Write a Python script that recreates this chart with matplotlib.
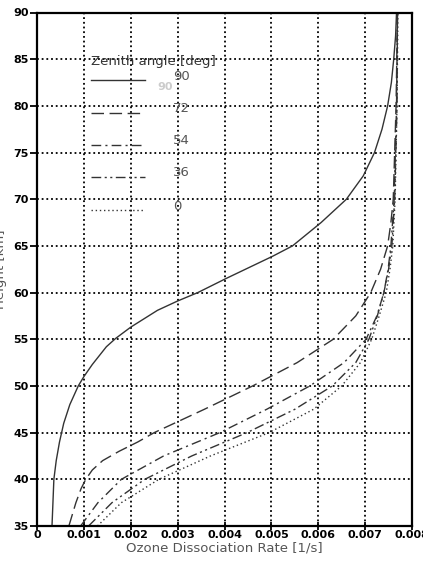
import matplotlib
matplotlib.use('Agg')
import matplotlib.pyplot as plt

# zenith angle 90 deg: height [km] and ozone dissociation rate [1/s]
h_90 = [35, 40, 42, 44, 46, 48, 50, 51, 52.3, 54.2, 55.1, 56.3, 58.1, 59.1, 60, 61.5, 63.9, 65,
        67.5, 70, 72.5, 75, 77.5, 80, 82.5, 85, 87.5, 90]
rate_90 = [0.00032, 0.00036, 0.00041, 0.00048, 0.00057, 0.00070, 0.00088, 0.00100, 0.00118, 0.00148,
           0.00168, 0.00200, 0.00257, 0.00300, 0.00343, 0.00403, 0.00503, 0.00545, 0.00606, 0.00660,
           0.00696, 0.00720, 0.00736, 0.00748, 0.00756, 0.00761, 0.00765, 0.00767]

# zenith angle 72 deg
h_72 = [35, 37.5, 39, 40, 41, 42, 43, 44, 45, 47.5, 50, 52.5, 55, 57.5, 60, 62.5, 65, 67.5, 70, 80, 90]
rate_72 = [0.00068, 0.00083, 0.00094, 0.00104, 0.00118, 0.00140, 0.00175, 0.00215, 0.00250, 0.00357,
           0.00460, 0.00555, 0.00632, 0.00680, 0.00712, 0.00733, 0.00748, 0.00755, 0.00760, 0.00766,
           0.00769]

# zenith angles 54, 36 and 0 deg share one height grid
h_low = [35, 37.5, 40, 42.5, 45, 47.5, 50, 52.5, 55, 57.5, 60, 62.5, 65, 70, 80, 90]
rate_54 = [0.00093, 0.00130, 0.00180, 0.00270, 0.00390, 0.00490, 0.00582, 0.00655, 0.00702, 0.00725,
           0.00740, 0.00749, 0.00755, 0.00762, 0.00767, 0.00769]
rate_36 = [0.00110, 0.00160, 0.00230, 0.00330, 0.00448, 0.00550, 0.00630, 0.00680, 0.00708, 0.00726,
           0.00740, 0.00750, 0.00757, 0.00763, 0.00768, 0.00769]
rate_0 = [0.00129, 0.00180, 0.00260, 0.00370, 0.00495, 0.00590, 0.00650, 0.00690, 0.00714, 0.00730,
          0.00745, 0.00753, 0.00759, 0.00764, 0.00768, 0.00770]

angles = ['90', '72', '54', '36', '0']
heights = [h_90, h_72, h_low, h_low, h_low]
series = [rate_90, rate_72, rate_54, rate_36, rate_0]
styles = ['-', (0, (9, 4)), (0, (7, 3, 1.5, 3)), (0, (7, 2.5, 1.5, 2.5, 1.5, 2.5)), (0, (1, 2))]

x_ticks = [0, 0.001, 0.002, 0.003, 0.004, 0.005, 0.006, 0.007, 0.008]
x_labels = ['0', '0.001', '0.002', '0.003', '0.004', '0.005', '0.006', '0.007', '0.008']
y_ticks = [35, 40, 45, 50, 55, 60, 65, 70, 75, 80, 85, 90]

fig = plt.figure(figsize=(4.23, 5.61), dpi=100)
ax = fig.add_axes([37 / 423, 1 - 526 / 561, 375 / 423, 513.5 / 561])

for h, rate, ls in zip(heights, series, styles):
    ax.plot(rate, h, color='#333333', lw=1.0, linestyle=ls)

ax.set_xlim(0, 0.008)
ax.set_ylim(35, 90)
ax.set_xticks(x_ticks)
ax.set_xticklabels(x_labels)
ax.set_yticks(y_ticks)
ax.grid(True, color='black', lw=1.3, linestyle=(0, (1, 1.6)))

for lab in ax.get_xticklabels() + ax.get_yticklabels():
    lab.set_fontweight('bold')
    lab.set_fontsize(8)
ax.tick_params(axis='y', direction='out', length=5, width=1.3, pad=1)
ax.tick_params(axis='x', direction='inout', length=6, width=1.3, pad=0)
for sp in ax.spines.values():
    sp.set_linewidth(1.6)

ax.set_xlabel('Ozone Dissociation Rate [1/s]', color='#555555', fontsize=9.5, labelpad=1)
ax.set_ylabel('Height [km]', color='#555555', fontsize=9.5, labelpad=1)
ax.yaxis.set_label_coords(-0.08, 0.5)

# hand drawn legend, in axes fraction
def fx(px):
    return (px - 37) / 375

def fy(py):
    return (526 - py) / 513.5

ax.text(fx(91), fy(62), 'Zenith angle [deg]', transform=ax.transAxes, fontsize=9.5,
        color='#333333', ha='left', va='center')
ax.text(fx(157), fy(87), '90', transform=ax.transAxes, fontsize=8, fontweight='bold',
        color='#cccccc', ha='left', va='center')
line_y = [80, 112.5, 145, 177, 210]
for ang, ls, yy in zip(angles, styles, line_y):
    ax.plot([fx(91), fx(145)], [fy(yy), fy(yy)], transform=ax.transAxes,
            color='#333333', lw=1.0, linestyle=ls)
    ax.text(fx(173), fy(yy - 4), ang, transform=ax.transAxes, fontsize=9.5,
            color='#555555', ha='left', va='center')

fig.savefig('out.png', dpi=100)
